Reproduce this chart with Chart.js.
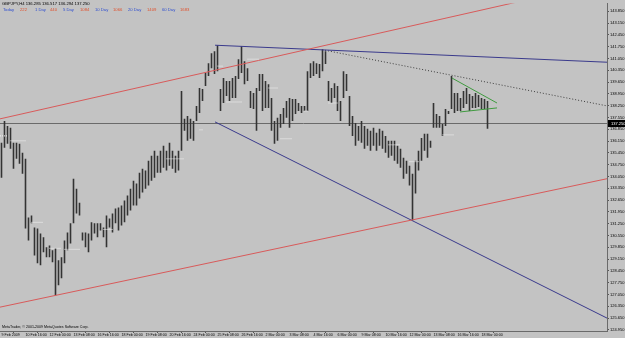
<!DOCTYPE html>
<html><head><meta charset="utf-8">
<script src="https://cdn.jsdelivr.net/npm/chart.js@4/dist/chart.umd.min.js"></script>
<style>
html,body{margin:0;padding:0;background:#c3c3c3;}
#wrap{position:relative;width:625px;height:338px;overflow:hidden;background:#c3c3c3;}
canvas{position:absolute;left:0;top:0;}
.t{position:absolute;font-family:"Liberation Sans",Arial,sans-serif;font-size:4.2px;white-space:nowrap;line-height:1;}
.b{color:#2f4fd0}.r{color:#e0502c}
</style></head><body>
<div id="wrap"><canvas id="c" width="625" height="338"></canvas>
<div class="t" style="left:2px;top:2px;color:#000">GBPJPY,H4 136.285 136.517 136.294 137.250</div>
<div class="t" style="left:3px;top:8px"><span class="b">Today</span></div>
<div class="t" style="left:20px;top:8px"><span class="r">222</span></div>
<div class="t" style="left:35px;top:8px"><span class="b">1 Day</span></div>
<div class="t" style="left:50px;top:8px"><span class="r">440</span></div>
<div class="t" style="left:63px;top:8px"><span class="b">5 Day</span></div>
<div class="t" style="left:80px;top:8px"><span class="r">1084</span></div>
<div class="t" style="left:95px;top:8px"><span class="b">10 Day</span></div>
<div class="t" style="left:113px;top:8px"><span class="r">1066</span></div>
<div class="t" style="left:128px;top:8px"><span class="b">20 Day</span></div>
<div class="t" style="left:147px;top:8px"><span class="r">1409</span></div>
<div class="t" style="left:162px;top:8px"><span class="b">60 Day</span></div>
<div class="t" style="left:180px;top:8px"><span class="r">1683</span></div>
<div class="t" style="left:2px;top:326px;color:#000;font-size:3.6px">MetaTrader, © 2001-2009 MetaQuotes Software Corp.</div>
</div>
<script>
// ---- data (H4 bars, one per 4 hours) ----
const highs = [
136.05,137.35,137.05,136.94,136.05,136.05,135.99,135.46,135.10,131.62,
131.74,131.03,130.97,130.67,130.44,129.85,129.96,129.67,129.79,129.08,
129.26,130.26,130.73,131.27,133.92,133.33,132.50,130.73,130.73,130.67,
131.33,131.27,131.27,131.27,131.03,131.74,131.56,131.85,132.15,132.21,
132.33,132.62,132.92,133.33,133.80,133.63,134.28,134.51,134.40,134.99,
135.28,135.58,135.28,135.58,135.87,135.58,136.05,135.58,135.28,135.58,
139.12,137.47,137.64,137.47,137.35,138.24,139.30,139.24,140.19,140.77,
141.37,141.48,141.84,139.24,139.89,139.71,139.71,139.89,140.01,141.01,
141.78,140.89,140.48,139.12,139.00,139.30,140.13,140.13,139.71,139.53,
138.71,137.35,137.53,137.76,138.12,138.53,138.71,138.65,138.65,138.41,
138.24,138.24,140.30,140.77,140.89,140.77,140.72,141.60,141.48,139.71,
139.30,139.59,139.42,138.53,140.30,140.13,138.83,137.64,137.23,137.05,
137.35,137.05,136.88,136.76,136.94,136.64,136.88,136.76,136.46,136.17,
136.17,136.17,135.87,135.69,135.16,134.99,134.69,134.22,134.99,135.58,
136.34,136.58,136.58,136.17,138.41,137.76,137.64,137.17,138.06,137.94,
140.01,139.00,139.00,138.71,139.12,139.30,138.94,138.83,139.00,138.89,
138.71,138.65,138.53];
const lows = [
133.98,135.75,135.99,135.69,134.51,135.10,134.81,134.22,130.97,130.26,
131.27,129.37,128.90,128.78,129.55,129.26,129.26,128.96,127.01,127.60,
128.01,128.90,129.67,130.08,131.27,131.85,131.74,130.26,129.85,129.55,
130.26,130.67,130.44,130.85,130.44,129.85,131.03,130.73,131.27,130.85,
131.15,131.33,131.74,132.03,132.33,132.33,132.74,133.10,133.33,133.51,
133.80,133.98,134.28,134.28,134.57,134.40,134.69,134.51,134.28,134.40,
135.58,136.76,136.17,136.29,136.17,137.35,137.82,138.53,139.42,140.01,
140.48,140.13,140.30,137.94,138.41,138.83,138.53,138.71,138.71,139.83,
140.19,139.53,139.71,138.12,138.06,136.76,139.12,137.94,138.12,138.12,
136.76,135.99,136.17,136.94,137.17,137.53,136.94,137.35,137.76,137.94,
137.82,137.94,137.94,139.89,140.01,140.13,139.89,140.30,140.72,138.53,
138.41,138.71,137.94,137.35,138.71,139.12,137.05,136.46,135.87,136.17,
136.05,135.69,135.87,135.58,135.87,135.58,135.87,135.69,135.46,135.16,
135.28,134.99,134.81,134.57,133.92,134.22,133.51,131.44,133.04,134.40,
134.99,135.58,135.16,135.75,136.94,136.94,136.94,136.46,137.05,137.76,
138.06,137.82,137.94,137.94,138.12,138.35,137.94,138.12,138.12,138.18,
138.06,138.06,136.88];

// short white dotted marker levels: [firstBar, lastBar, price]
const markers = [[-0.5,2,136.46],[3,8,136.17],[10,14,131.33],[16,20,129.79],[21,26,129.73],[34,37,130.91],
 [55,61,135.10],[66,67,136.82],[72,74,140.60],[75,80,138.47],[82,86,141.01],[89,92,139.30],[93,97,136.29],
 [101,102,137.94],[109,112,138.41],[129,133,135.93],[136,139,134.93],[147,151,136.52]];

const yTickValues = [124.950,125.650,126.350,127.050,127.750,128.450,129.150,129.850,130.550,131.250,131.950,132.650,133.350,134.050,134.750,135.450,136.150,136.850,137.550,138.250,138.950,139.650,140.350,141.050,141.750,142.450,143.150,143.850];
const xTickBars = [0,8,16,24,32,40,48,56,64,72,80,88,96,104,112,120,128,136,144,152,160];
const xTickLabels = ["9 Feb 2009","10 Feb 16:00","12 Feb 00:00","13 Feb 08:00","16 Feb 16:00","18 Feb 00:00","19 Feb 08:00","20 Feb 16:00","24 Feb 00:00","25 Feb 08:00","26 Feb 16:00","2 Mar 00:00","3 Mar 08:00","4 Mar 16:00","6 Mar 00:00","9 Mar 08:00","10 Mar 16:00","12 Mar 00:00","13 Mar 08:00","16 Mar 16:00","18 Mar 00:00"];
const currentPrice = 137.250;

// trend lines: [barIndex, price] endpoints
const redUpper = [[-0.5,137.47],[172.83,144.44]];
const redLower = [[-0.5,126.30],[201.83,133.92]];
const blueUpper = [[71.17,141.84],[201.83,140.83]];
const blueLower = [[71.17,137.29],[201.83,125.65]];
const dottedLine = [[107.83,141.54],[201.83,138.24]];
const greenUpper = [[150.17,139.89],[165.17,138.41]];
const greenLower = [[152.83,137.88],[165.17,138.12]];
const xMin = -0.5, xMax = 201.83, yMin = 124.885, yMax = 144.32;

// ---- chart ----
const pts = a => a.map(p => ({x:p[0], y:p[1]}));
const lineDs = (a, color, dash, w) => ({type:'line', data:pts(a), borderColor:color, borderWidth:w||1, borderDash:dash||[], pointRadius:0, fill:false, tension:0, clip:0, order:0});
const bars = highs.map((h,i)=>({x:i, y:[lows[i], h]}));
const markerSets = markers.map(m => lineDs([[m[0],m[2]],[m[1],m[2]]], '#f4f4f4', [1,1]));

const priceBox = {
  id:'priceBox',
  beforeDatasetsDraw(chart){
    const {ctx, scales:{y}, chartArea} = chart;
    const py = Math.round(y.getPixelForValue(currentPrice));
    ctx.save();
    ctx.strokeStyle = '#6a6a6a'; ctx.lineWidth = 1;
    ctx.beginPath(); ctx.moveTo(chartArea.left, py+0.5); ctx.lineTo(chartArea.right, py+0.5); ctx.stroke();
    ctx.restore();
  },
  afterDraw(chart){
    const {ctx, scales:{y}, chartArea} = chart;
    const py = Math.round(y.getPixelForValue(currentPrice));
    ctx.save();
    ctx.fillStyle = '#000'; ctx.fillRect(chartArea.right+1, py-3, 18, 7);
    ctx.fillStyle = '#fff'; ctx.font = '4px "Liberation Sans"'; ctx.textBaseline='middle'; ctx.textAlign='left';
    ctx.fillText(currentPrice.toFixed(3), chartArea.right+4, py+0.5);
    ctx.restore();
  }
};

new Chart(document.getElementById('c'), {
  data:{datasets:[
    {type:'bar', data:bars, backgroundColor:'#333333', barThickness:1.6, inflateAmount:0, grouped:false, order:2},
    ...markerSets,
    lineDs(redUpper,'#d85a5a'),
    lineDs(redLower,'#d85a5a'),
    lineDs(blueUpper,'#3a3a8c'),
    lineDs(blueLower,'#3a3a8c'),
    lineDs(dottedLine,'#3c3c3c',[1,2]),
    lineDs(greenUpper,'#3f9a3f'),
    lineDs(greenLower,'#3f9a3f')
  ]},
  options:{
    responsive:false, animation:false, events:[],
    layout:{padding:{top:2,left:0,right:0,bottom:0}},
    plugins:{legend:{display:false}, tooltip:{enabled:false}, title:{display:false}},
    scales:{
      x:{type:'linear', min:xMin, max:xMax, offset:false,
         afterBuildTicks:s=>{s.ticks = xTickBars.map(v=>({value:v}));},
         afterFit:s=>{s.height = 7;},
         grid:{drawOnChartArea:false, drawTicks:true, tickLength:2, color:'#555'},
         border:{display:true, color:'#6a6a6a', width:1},
         ticks:{autoSkip:false, maxRotation:0, align:'start', padding:0, color:'#000',
                font:{family:'Liberation Sans', size:3.6}, callback:(v,i)=>xTickLabels[i]}
      },
      y:{position:'right', min:yMin, max:yMax,
         afterBuildTicks:s=>{s.ticks = yTickValues.map(v=>({value:v}));},
         afterFit:s=>{s.width = 18;},
         grid:{drawOnChartArea:false, drawTicks:true, tickLength:2, color:'#555'},
         border:{display:true, color:'#6a6a6a', width:1},
         ticks:{autoSkip:false, padding:1, color:'#000',
                font:{family:'Liberation Sans', size:4}, callback:v=>v.toFixed(3)}
      }
    }
  },
  plugins:[priceBox]
});
</script>
</body></html>
